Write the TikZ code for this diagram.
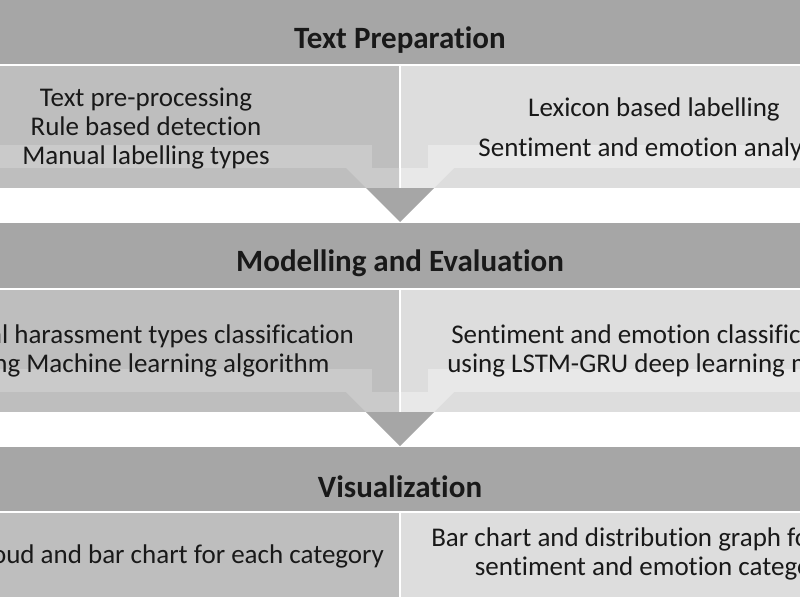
\documentclass[tikz,border=0pt]{standalone}
\usepackage{fontspec}
\setmainfont{Carlito}[Ligatures=NoCommon]
\definecolor{headgray}{HTML}{A6A6A6}
\definecolor{leftgray}{HTML}{BEBEBE}
\definecolor{rightgray}{HTML}{DDDDDD}
\definecolor{leftglow}{HTML}{CACACA}
\definecolor{rightglow}{HTML}{E8E8E8}
\tikzset{
  head/.style={font=\fontsize{31}{35}\selectfont\bfseries, text=black!90},
  body/.style={font=\fontsize{27}{29}\selectfont, align=center, text=black!90}
}

\begin{document}
\begin{tikzpicture}[x=1pt, y=-1pt]
\useasboundingbox (0,0) rectangle (800,600);
\clip (0,0) rectangle (800,600);
\fill[white] (0,0) rectangle (800,600);
% Headers and panels
\foreach \t in {0,224} {
	\fill[headgray] (0,\t-1) rectangle (800,\t+64);
	\fill[leftgray] (0,\t+66) rectangle (399,\t+188);
	\fill[rightgray] (401,\t+66) rectangle (800,\t+188);
}
	\fill[headgray] (0,447) rectangle (800,511);
	\fill[leftgray] (0,513) rectangle (399,597);
	\fill[rightgray] (401,513) rectangle (800,597);
% Arrows between the steps
\foreach \t in {0,224} {
	\fill[leftglow] (0,\t+145) rectangle (372,\t+168);
	\fill[leftglow] (346,\t+168) -- (399,\t+168) -- (399,\t+188) -- (366,\t+188) -- cycle;
	\fill[rightglow] (428,\t+145) rectangle (800,\t+168);
	\fill[rightglow] (401,\t+168) -- (454,\t+168) -- (434,\t+188) -- (401,\t+188) -- cycle;
	\fill[headgray] (366,\t+188) -- (434,\t+188) -- (400,\t+222) -- cycle;
}
% Texts
	\node[head] (prep) at (400,40) {Text Preparation};
	\node[body] (prepL) at (146,129) {Text pre-processing\\Rule based detection\\Manual labelling types};
	\node[body] (prepR) at (654,129) {Lexicon based labelling\\[11pt]Sentiment and emotion analysis};
	\node[head] (model) at (400,263) {Modelling and Evaluation};
	\node[body] (modelL) at (146,351) {Sexual harassment types classification\\using Machine learning algorithm};
	\node[body] (modelR) at (654,351) {Sentiment and emotion classification\\using LSTM-GRU deep learning model};
	\node[head] (vis) at (400,487) {Visualization};
	\node[body] (visL) at (146,556) {Word cloud and bar chart for each category};
	\node[body] (visR) at (654,554) {Bar chart and distribution graph for each\\sentiment and emotion category};
\end{tikzpicture}
\end{document}
